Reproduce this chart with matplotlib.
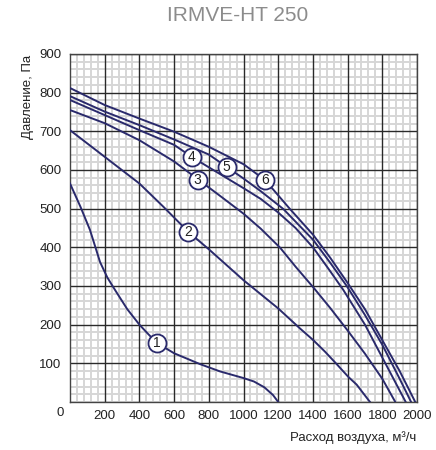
import matplotlib.pyplot as plt
from matplotlib.ticker import MultipleLocator

NAVY = "#2a2a6c"

# airflow, m3/h  /  pressure, Pa
q1 = [0, 60, 115, 150, 173, 215, 259, 330, 400, 450, 500, 600, 749, 865, 999, 1060, 1120, 1170, 1200]
p1 = [565, 505, 445, 395, 362, 322, 290, 240, 200, 176, 153, 126, 98, 79, 62, 53, 38, 18, 0]

q2 = [0, 200, 400, 538, 682, 800, 1000, 1200, 1326, 1402, 1470, 1537, 1604, 1652, 1729]
p2 = [703, 634, 565, 505, 440, 395, 315, 242, 190, 160, 130, 98, 65, 45, 0]

q3 = [0, 200, 400, 600, 740, 865, 1000, 1100, 1211, 1300, 1405, 1500, 1600, 1700, 1800, 1875]
p3 = [755, 721, 677, 622, 575, 533, 487, 448, 399, 350, 295, 243, 185, 125, 60, 0]

q4 = [0, 200, 400, 600, 701, 800, 1000, 1100, 1200, 1300, 1402, 1489, 1575, 1700, 1800, 1935]
p4 = [781, 742, 703, 665, 634, 607, 553, 525, 490, 450, 399, 345, 290, 200, 115, 0]

q5 = [0, 200, 400, 600, 800, 903, 1000, 1100, 1230, 1402, 1500, 1595, 1700, 1800, 1900, 1966]
p5 = [791, 751, 716, 679, 640, 608, 578, 545, 499, 419, 360, 300, 225, 148, 60, 0]

q6 = [0, 200, 400, 600, 800, 1000, 1124, 1268, 1402, 1500, 1600, 1700, 1800, 1900, 1990]
p6 = [812, 768, 733, 699, 660, 615, 574, 499, 432, 373, 308, 240, 160, 80, 0]

curves = [(q1, p1), (q2, p2), (q3, p3), (q4, p4), (q5, p5), (q6, p6)]

# curve number labels (position on the curve)
label_q = [500, 682, 735, 701, 903, 1124]
label_p = [153, 440, 573, 634, 608, 574]

x_ticks = [200, 400, 600, 800, 1000, 1200, 1400, 1600, 1800, 2000]
y_ticks = [100, 200, 300, 400, 500, 600, 700, 800, 900]

plt.rcParams["font.family"] = ["Liberation Sans", "DejaVu Sans"]

fig = plt.figure(figsize=(4.36, 4.5), dpi=100)
ax = fig.add_axes([0.1606, 0.1067, 0.7958, 0.7733])

ax.set_xlim(0, 2000)
ax.set_ylim(0, 900)
ax.set_xticks(x_ticks)
ax.set_yticks(y_ticks)
ax.xaxis.set_minor_locator(MultipleLocator(40))
ax.yaxis.set_minor_locator(MultipleLocator(20))
ax.set_axisbelow(True)
ax.grid(which="minor", color="#d6d6d6", linewidth=1.4)
# major grid drawn on top of the minor one
for x in x_ticks:
    ax.axvline(x, color="#2a2a2a", linewidth=1.0, zorder=1)
for y in y_ticks:
    ax.axhline(y, color="#2a2a2a", linewidth=1.0, zorder=1)
ax.tick_params(which="both", length=0, labelsize=9.5, colors="#222222", pad=6)
for s in ax.spines.values():
    s.set_color("#444444")
    s.set_linewidth(1.0)

for q, p in curves:
    ax.plot(q, p, color=NAVY, linewidth=1.4, zorder=3)

for i, (lq, lp) in enumerate(zip(label_q, label_p)):
    ax.plot(lq, lp, "o", ms=13, mfc="white", mec=NAVY, mew=1.3, zorder=4)
    ax.text(lq, lp, str(i + 1), ha="center", va="center", fontsize=10,
            color="#222222", zorder=5)

ax.text(-0.027, -0.0325, "0", transform=ax.transAxes, ha="center", va="center",
        fontsize=9.5, color="#222222")

fig.text(0.545, 0.965, "IRMVE-HT 250", ha="center", va="center", fontsize=15,
         color="#8c8c8c")
fig.text(0.064, 0.785, "Давление, Па", rotation=90, ha="center", va="center",
         fontsize=9.5, color="#222222")
fig.text(0.955, 0.027, "Расход воздуха, м³/ч", ha="right", va="center",
         fontsize=9.5, color="#222222")

fig.savefig("out.png", dpi=100)
